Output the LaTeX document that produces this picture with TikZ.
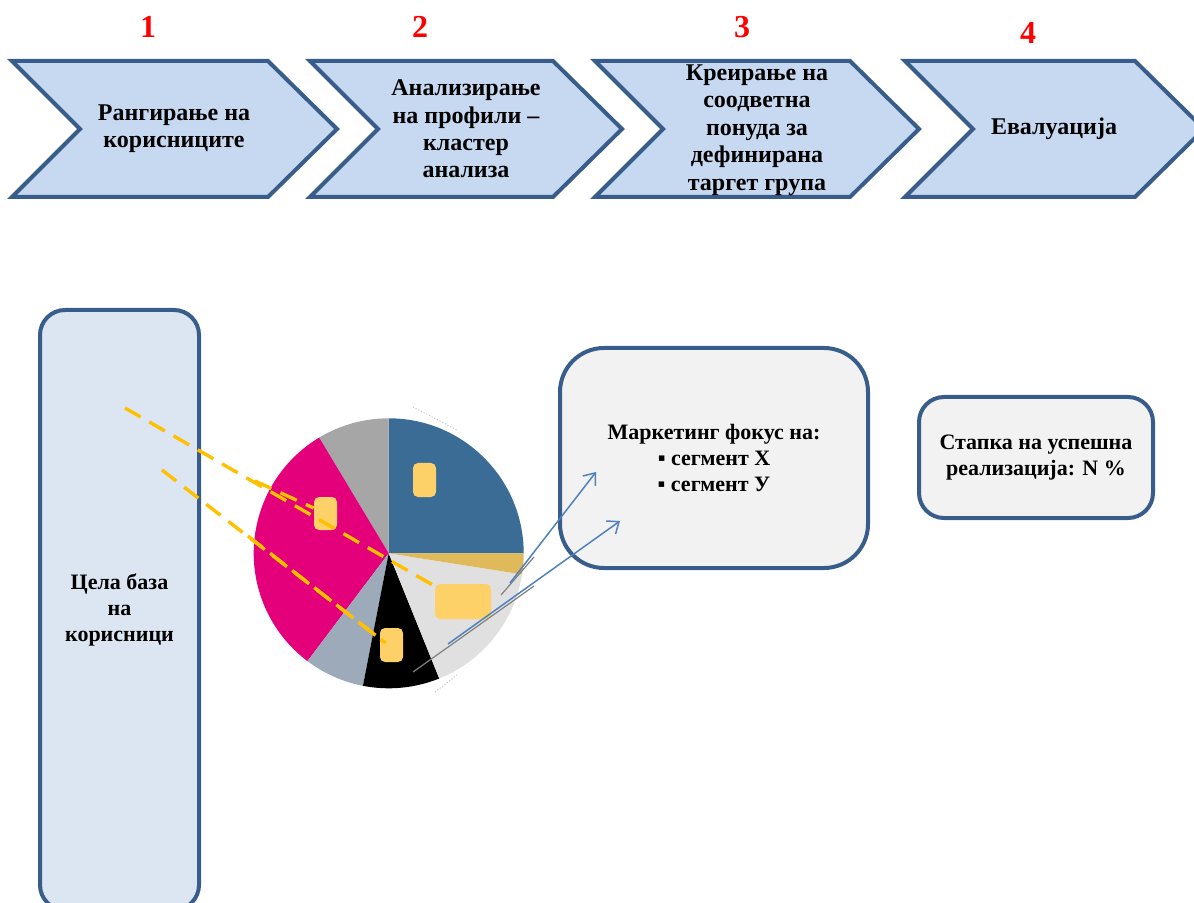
\documentclass[tikz,border=0pt]{standalone}
\usepackage{fontspec}
\setmainfont{Liberation Serif}
\usetikzlibrary{arrows.meta,positioning,calc}
\definecolor{darkblue}{RGB}{56,93,138}
\definecolor{chevfill}{RGB}{198,217,241}
\definecolor{basefill}{RGB}{220,230,242}
\definecolor{boxgray}{RGB}{242,242,242}
\definecolor{tagyellow}{RGB}{254,208,104}
\definecolor{lineyellow}{RGB}{255,192,0}
\definecolor{arrowblue}{RGB}{79,129,189}
\definecolor{pieblue}{RGB}{59,108,150}
\definecolor{piegold}{RGB}{224,185,90}
\definecolor{pielight}{RGB}{224,224,224}
\definecolor{pieslate}{RGB}{157,170,186}
\definecolor{piemag}{RGB}{227,0,122}
\definecolor{piegray}{RGB}{166,166,166}

\begin{document}
\begin{tikzpicture}[x=0.5pt, y=-0.5pt,
    chev/.style={draw=darkblue, fill=chevfill, line width=2pt, line join=miter},
    steptext/.style={font=\bfseries\fontsize{12}{13.7}\selectfont, align=center, inner sep=0pt},
    num/.style={font=\bfseries\fontsize{16}{16}\selectfont, text=red},
    roundbox/.style={draw=darkblue, line width=2pt, fill=boxgray, align=center, font=\bfseries\fontsize{11}{13}\selectfont},
    tag/.style={fill=tagyellow, rounded corners=2.5pt, inner sep=0pt},
    yline/.style={draw=lineyellow, line width=1.7pt, dash pattern=on 9pt off 5pt},
    barrow/.style={-{Straight Barb[length=5pt,width=8pt]}, draw=arrowblue, line width=0.75pt},
    gline/.style={draw=gray, line width=0.6pt}
  ]
  \useasboundingbox (0,0) rectangle (1194,903);
  \clip (0,0) rectangle (1194,903);

  % process steps
  \foreach \l/\r in {12/268, 310/553, 595/850, 905/1135}
    \draw[chev] (\l,61) -- (\r,61) -- ({\r+69},129) -- (\r,197) -- (\l,197) -- ({\l+68},129) -- cycle;

  \node[num] (n1) at (148,27) {1};
  \node[num] (n2) at (420,27) {2};
  \node[num] (n3) at (742,27) {3};
  \node[num] (n4) at (1028,33) {4};

  \node[steptext] (t1) at (174,129) {Рангирање на\\корисниците};
  \node[steptext] (t2) at (466,129) {Анализирање\\на профили –\\кластер\\анализа};
  \node[steptext] (t3) at (757,130) {Креирање на\\соодветна\\понуда за\\дефинирана\\таргет група};
  \node[steptext] (t4) at (1054,129) {Евалуација};

  % user base
  \node[roundbox, fill=basefill, rounded corners=12.5pt, minimum width=79.5pt, minimum height=300pt] (base) at (119.5,610) {Цела база\\на\\корисници};

  % pie of segments
  \coordinate (pie) at (388.7,553.3);
  \begin{scope}[shift={(388.7,553.3)}, yscale=-1]
    \foreach \a/\b/\c in {0/90/pieblue, 90/121/piegray, 121/233/piemag, 233/259/pieslate,
                          259/292/black, 292/351/pielight, 351/360/piegold}
      \fill[\c] (0,0) -- (\a:135) arc[start angle=\a, end angle=\b, radius=135] -- cycle;
  \end{scope}
  \draw[pielight!70!gray, line width=0.5pt, densely dotted] (413,407) -- (457,430);
  \draw[pielight!70!gray, line width=0.5pt, densely dotted] (435,692) -- (457,675);

  \node[tag, minimum width=11.5pt, minimum height=17pt] (lblA) at (424.5,480) {};
  \node[tag, minimum width=11.5pt, minimum height=16.5pt] (lblB) at (325.5,513.5) {};
  \node[tag, minimum width=28pt, minimum height=17.5pt] (lblC) at (463,601.5) {};
  \node[tag, minimum width=11.5pt, minimum height=17pt] (lblD) at (391.5,645) {};

  % links from the base to the segments
  \coordinate (yA) at (125,408);
  \coordinate (yA2) at (255,481);
  \coordinate (yB) at (162,470);
  \coordinate (yB2) at (248,536);
  \draw[yline] (yA) -- ($(lblC.north west)+(1,3)$);
  \draw[yline] (yA2) -- (lblB);
  \draw[yline] (yB) -- ($(lblD)+(-6,-2)$);
  \draw[yline] (yB2) -- ($(lblD)+(-6,-2)$);

  % focus boxes
  \node[roundbox, rounded corners=22pt, minimum width=154pt, minimum height=110pt] (focus) at (714,458) {Маркетинг фокус на:\\▪ сегмент Х\\▪ сегмент У};
  \node[roundbox, rounded corners=12.5pt, minimum width=117pt, minimum height=60.5pt] (rate) at (1036,457.5) {Стапка на успешна\\реализација: N \%};

  % leader lines and arrows
  \coordinate (g1s) at (501,595);
  \coordinate (g1e) at (534,557);
  \coordinate (g2s) at (413,672);
  \coordinate (g2e) at (534,586);
  \draw[gline] (g1s) -- (g1e);
  \draw[gline] (g2s) -- (g2e);
  \coordinate (a1s) at (510,583);
  \coordinate (a1e) at (596,472);
  \coordinate (a2s) at (448,644);
  \coordinate (a2e) at (620,521);
  \draw[barrow] (a1s) -- (a1e);
  \draw[barrow] (a2s) -- (a2e);
\end{tikzpicture}
\end{document}
